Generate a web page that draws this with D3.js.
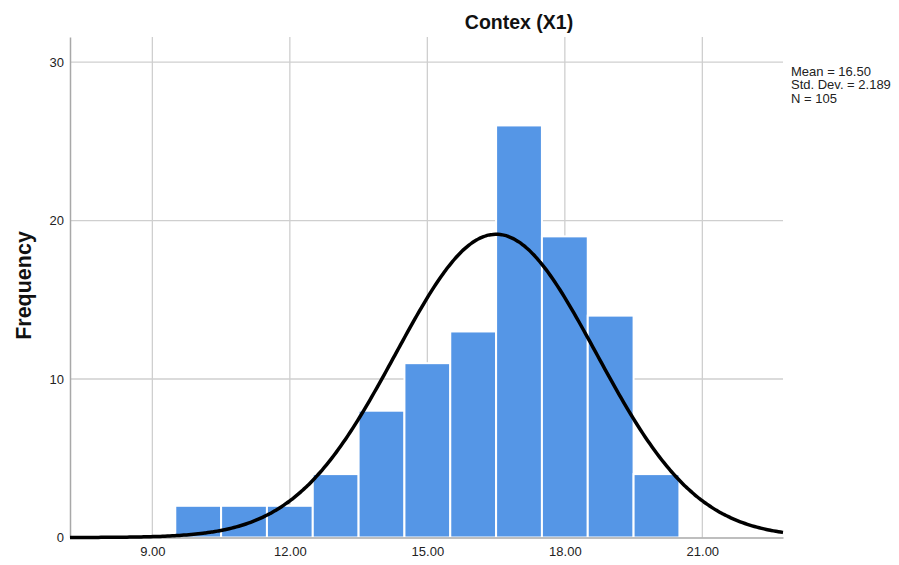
<!DOCTYPE html>
<html><head><meta charset="utf-8">
<script src="https://cdn.jsdelivr.net/npm/d3@7"></script>
<style>body{margin:0;background:#fff}svg{display:block}text{font-family:"Liberation Sans",Arial,sans-serif}</style>
</head><body>
<svg id="c" width="899" height="565"></svg>
<script>
const binCenters = [10, 11, 12, 13, 14, 15, 16, 17, 18, 19, 20];
const frequencies = [2, 2, 2, 4, 8, 11, 13, 26, 19, 14, 4];
const xTicks = [9, 12, 15, 18, 21];
const yTicks = [0, 10, 20, 30];
const stats = ["Mean = 16.50", "Std. Dev. = 2.189", "N = 105"];
const mean = 16.50, sd = 2.189, n = 105, binWidth = 1;

const svg = d3.select("#c");
const L = 70, R = 783, T = 37, B = 537.5;
const x = d3.scaleLinear().domain([7.203, 22.76]).range([L, R]);
const y = d3.scaleLinear().domain([0, 31.58]).range([B, T]);

// gridlines
svg.append("g").selectAll("line.h").data(yTicks.filter(d => d > 0)).join("line")
  .attr("x1", L).attr("x2", R).attr("y1", d => y(d)).attr("y2", d => y(d))
  .attr("stroke", "#cfcfcf").attr("stroke-width", 1.3);
svg.append("g").selectAll("line.v").data(xTicks).join("line")
  .attr("x1", d => x(d)).attr("x2", d => x(d)).attr("y1", T).attr("y2", B)
  .attr("stroke", "#cfcfcf").attr("stroke-width", 1.3);

// bars
svg.append("g").selectAll("rect").data(binCenters).join("rect")
  .attr("x", d => x(d - binWidth / 2))
  .attr("width", d => x(d + binWidth / 2) - x(d - binWidth / 2))
  .attr("y", (d, i) => y(frequencies[i]))
  .attr("height", (d, i) => B - y(frequencies[i]))
  .attr("fill", "#5596e6").attr("stroke", "#ffffff").attr("stroke-width", 2);

// axes
const xAxis = d3.axisBottom(x).tickValues(xTicks).tickFormat(d3.format(".2f")).tickSize(0).tickPadding(9.5);
const gx = svg.append("g").attr("transform", `translate(0,${B})`).call(xAxis);
gx.select(".domain").attr("stroke", "#a8a8a8").attr("stroke-width", 1.5);
gx.selectAll("text").attr("font-size", 13).attr("fill", "#222");

const yAxis = d3.axisLeft(y).tickValues(yTicks).tickSize(0).tickPadding(6);
const gy = svg.append("g").attr("transform", `translate(${L},0)`).call(yAxis);
gy.select(".domain").attr("stroke", "#a8a8a8").attr("stroke-width", 1.5);
gy.selectAll("text").attr("font-size", 13).attr("fill", "#222");

// normal curve
const pts = d3.range(0, 301).map(i => {
  const xv = 7.203 + (22.76 - 7.203) * i / 300;
  const yv = n * binWidth * Math.exp(-0.5 * ((xv - mean) / sd) ** 2) / (sd * Math.sqrt(2 * Math.PI));
  return [xv, yv];
});
svg.append("path").datum(pts)
  .attr("d", d3.line().x(d => x(d[0])).y(d => y(d[1])).curve(d3.curveBasis))
  .attr("fill", "none").attr("stroke", "#000").attr("stroke-width", 3.5);

// title
svg.append("text").attr("x", 519).attr("y", 29).attr("text-anchor", "middle")
  .attr("font-size", 19.5).attr("font-weight", "bold").attr("fill", "#111").text("Contex (X1)");

// y label
svg.append("text").attr("transform", "translate(31,285.5) rotate(-90)").attr("text-anchor", "middle")
  .attr("font-size", 21.5).attr("font-weight", "bold").attr("fill", "#111").text("Frequency");

// stats
svg.append("g").selectAll("text").data(stats).join("text")
  .attr("x", 791).attr("y", (d, i) => 76 + i * 13.3)
  .attr("font-size", 13).attr("fill", "#222").text(d => d);
</script>
</body></html>
